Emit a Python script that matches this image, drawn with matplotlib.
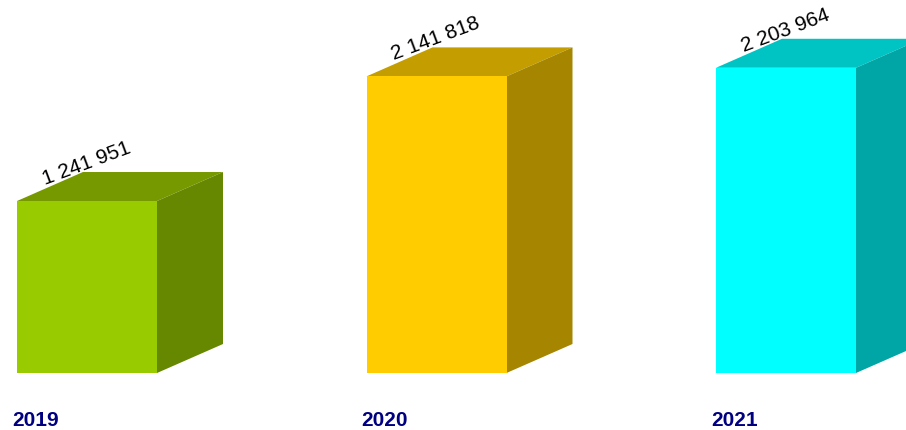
import matplotlib
matplotlib.use("Agg")
import matplotlib.pyplot as plt
from matplotlib.patches import Polygon
import numpy as np

years = ["2019", "2020", "2021"]
values = [1241951, 2141818, 2203964]
labels = ["1 241 951", "2 141 818", "2 203 964"]
front_colors = ["#99CC00", "#FFCC00", "#00FFFF"]
top_colors = ["#779900", "#C49E00", "#00C4C4"]
side_colors = ["#668800", "#A68600", "#00A6A6"]

W, H = 906, 430
fig = plt.figure(figsize=(W / 100, H / 100), dpi=100)
ax = fig.add_axes([0, 0, 1, 1])
ax.set_axis_off()

spacing_px = 349.5
first_center_px = 87
zero_px_from_top = 373
units_per_px = 7221.0
ax.set_xlim(-first_center_px / spacing_px, (W - first_center_px) / spacing_px)
ax.set_ylim(-(H - zero_px_from_top) * units_per_px, zero_px_from_top * units_per_px)

bar_w = 140 / spacing_px
dx = 66 / spacing_px
dy = 29 * units_per_px

x = np.arange(len(values))
ax.bar(x, values, width=bar_w, color=front_colors, edgecolor="none", zorder=3)

for i, v in enumerate(values):
    l = x[i] - bar_w / 2
    r = x[i] + bar_w / 2
    top = Polygon([(l, v), (r, v), (r + dx, v + dy), (l + dx, v + dy)],
                  closed=True, facecolor=top_colors[i], edgecolor="none", zorder=2)
    side = Polygon([(r, 0), (r + dx, dy), (r + dx, v + dy), (r, v)],
                   closed=True, facecolor=side_colors[i], edgecolor="none", zorder=2)
    ax.add_patch(top)
    ax.add_patch(side)
    ax.text(l + 28 / spacing_px, v + 16 * units_per_px, labels[i], rotation=20.5,
            rotation_mode="anchor", ha="left", va="baseline",
            fontsize=15, family="Liberation Sans", color="black", zorder=5)
    ax.text(l - 5 / spacing_px, -(421 - zero_px_from_top) * units_per_px, years[i],
            ha="left", va="center", fontsize=15, fontweight="bold",
            family="Liberation Sans", color="#000080", zorder=5)

fig.savefig("out.png", dpi=100)
